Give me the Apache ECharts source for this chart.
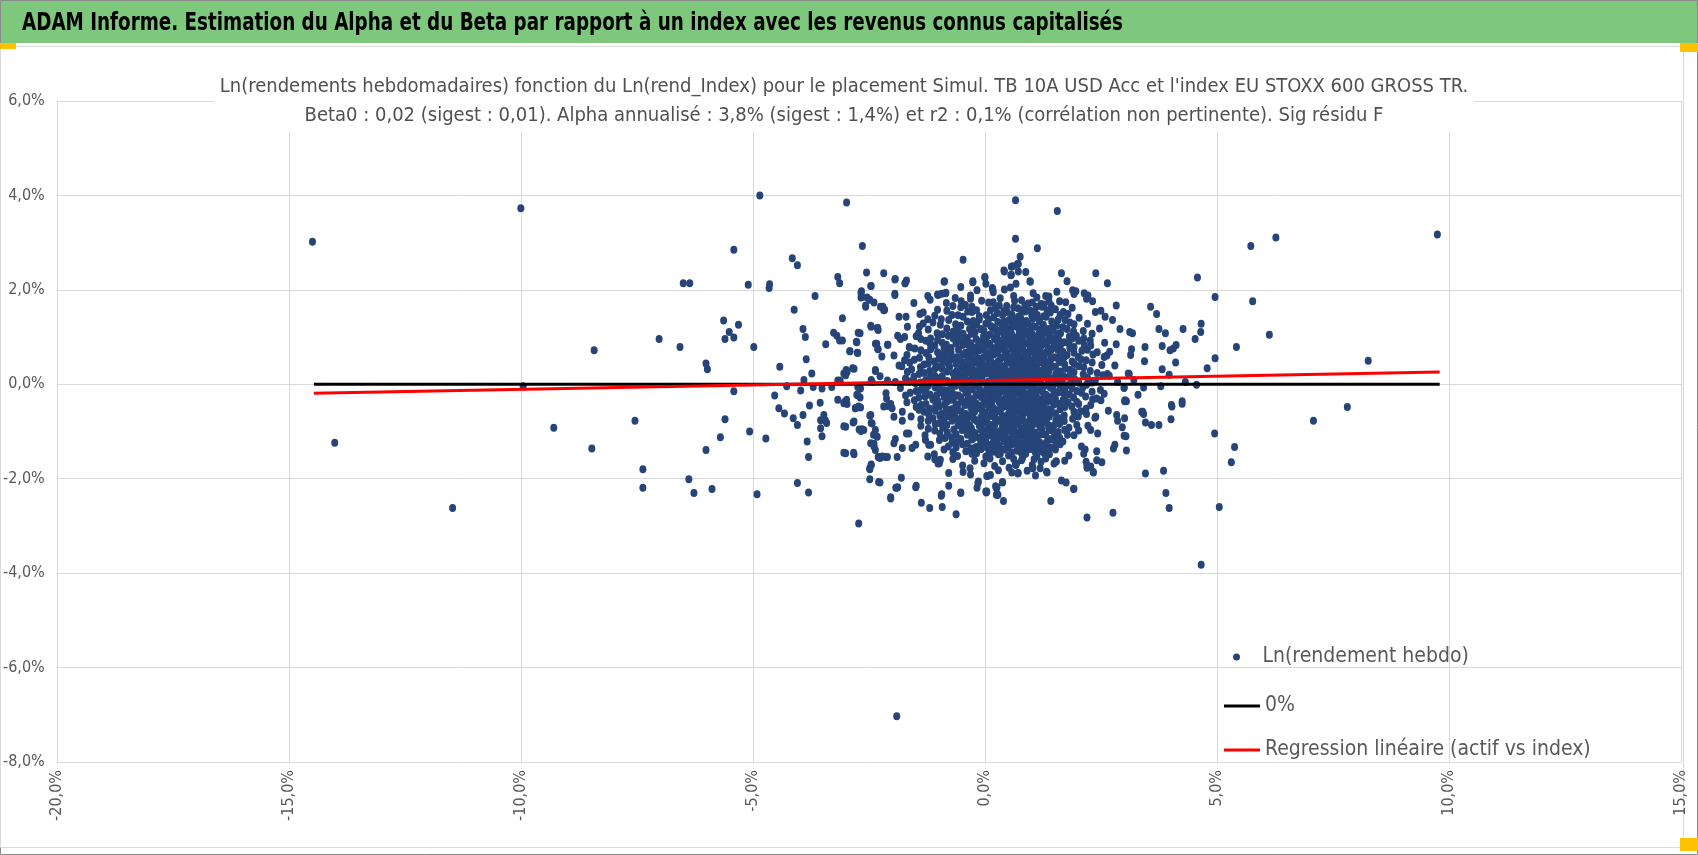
<!DOCTYPE html>
<html>
<head>
<meta charset="utf-8">
<title>ADAM Informe - Alpha et Beta</title>
<script src="https://cdn.jsdelivr.net/npm/echarts@6/dist/echarts.min.js"></script>
<style>
  html, body { margin: 0; padding: 0; background: #fff; }
  #chart { width: 1698px; height: 855px; }
</style>
</head>
<body>
<div id="chart"></div>
<script>
// textes
var mainTitle = 'ADAM Informe. Estimation du Alpha et du Beta par rapport à un index avec les revenus connus capitalisés';
var subTitle = "Ln(rendements hebdomadaires) fonction du Ln(rend_Index) pour le placement Simul. TB 10A USD Acc et l'index EU STOXX 600 GROSS TR.\n" +
               'Beta0 : 0,02 (sigest : 0,01). Alpha annualisé : 3,8% (sigest : 1,4%) et r2 : 0,1% (corrélation non pertinente). Sig résidu F';
var seriesNames = ['Ln(rendement hebdo)', '0%', 'Regression linéaire (actif vs index)'];

// axes (en %)
var xTicks = { min: -20, max: 15, step: 5 };
var yTicks = { min: -8, max: 6, step: 2 };

// points éloignés [Ln(rend_Index) %, Ln(rendement hebdo) %]
var outerPoints = [
  [-14.49,3.02],[-10.00,3.73],[-14.01,-1.24],[-11.47,-2.62],[-9.95,-0.04],[-9.29,-0.92],[-8.42,0.72],[-8.47,-1.36],
  [-7.54,-0.77],[-7.37,-1.80],[-7.37,-2.19],[-7.02,0.96],[-6.57,0.79],[-6.50,2.14],[-6.36,2.14],[-6.38,-2.01],
  [-6.27,-2.30],[-5.88,-2.22],[-6.01,0.44],[-5.98,0.32],[-6.01,-1.39],[-5.70,-1.12],[-5.60,-0.74],[-5.63,1.35],
  [-5.51,1.11],[-5.60,0.96],[-5.41,0.99],[-5.31,1.26],[-5.41,2.85],[-5.41,-0.15],[-5.10,2.11],[-5.07,-1.00],
  [-4.91,-2.33],[-4.85,4.00],[-4.98,0.79],[-4.72,-1.15],[-4.65,2.04],[-4.64,2.12],[-4.53,-0.24],[-4.42,0.37],
  [-4.44,-0.51],[-4.32,-0.62],[-4.27,-0.04],[-4.15,2.67],[-4.04,2.52],[-4.11,1.58],[-4.13,-0.72],[-4.04,-0.86],
  [-4.04,-2.09],[-3.97,-0.13],[-3.92,1.17],[-3.87,1.00],[-3.85,0.53],[-3.90,0.09],[-3.92,-0.65],[-3.83,-1.21],
  [-3.80,-1.54],[-3.80,-2.29],[-3.73,0.23],[-3.78,-0.45],[-3.66,1.87],[-3.70,-0.06],[-3.55,-0.39],[-3.51,-0.09],
  [-3.47,-0.65],[-3.44,-0.76],[-3.54,-0.76],[-3.54,-0.93],[-3.51,-1.10],[-3.41,-0.82],[-3.43,0.85],[-3.30,-0.06],
  [-3.26,1.09],[-3.19,1.03],[-3.17,2.27],[-3.13,2.14],[-3.17,0.08],[-3.12,0.08],[-3.17,-0.33],[-3.13,0.93],
  [-3.07,0.93],[-3.07,1.40],[-3.04,-0.40],[-3.04,-0.89],[-3.04,-1.45],[-3.04,0.23],[-2.99,0.30],[-2.85,0.34],
  [-2.98,3.85],[-2.91,0.70],[-2.98,-0.33],[-2.83,-1.45],[-2.84,-0.81],[-2.79,-0.51],[-2.77,0.90],[-2.75,0.67],
  [-2.72,-2.95],[-2.64,2.93],[-2.66,1.97],[-2.65,1.85],[-2.57,1.67],[-2.76,-0.22],[-2.74,-0.06],[-2.73,1.09],
  [-2.72,-0.47],[-2.71,-0.96],[-2.65,-0.95],[-2.55,2.37],[-2.46,2.08],[-2.46,1.24],[-2.45,0.09],[-2.48,-0.66],
  [-2.45,-0.82],[-2.48,-1.80],[-2.45,-1.70],[-2.48,-2.01],[-2.40,-1.07],[-2.39,-1.26],[-2.36,0.30],[-2.33,0.86],
  [-2.31,1.19],[-2.30,0.74],[-2.20,1.64],[-2.16,1.58],[-2.30,-1.54],[-2.24,-1.54],[-2.14,-1.54],[-2.29,-2.07],
  [-2.18,2.35],[-2.13,-0.19],[-2.18,-0.47],[-2.09,-0.46],[-2.10,0.84],[-2.03,-2.42],[-1.93,2.23],[-1.94,1.92],
  [-1.92,-2.19],[-1.90,-2.19],[-1.80,-1.98],[-1.72,2.14],[-1.69,2.20],[-1.48,-2.15],[-1.37,-2.51],[-1.19,-2.62],
  [-0.93,-2.33],[-0.92,-2.60],[-0.78,-2.15],[-0.62,-2.75],[-0.52,-2.29],[-0.47,2.64],[-1.23,1.87],[-1.02,1.90],
  [-0.85,1.93],[-0.87,2.18],[-0.52,2.06],[-0.26,2.18],[-0.17,1.99],[0.00,2.27],[0.02,2.13],[0.16,2.04],
  [-0.47,-1.86],[-0.31,-1.91],[-0.17,-2.19],[-0.14,-2.06],[0.02,-2.27],[0.04,-1.94],[0.25,-2.20],[0.25,-2.34],
  [-1.90,-7.03],
  [-1.94,2.22],[-1.72,2.14],[-2.45,2.08],[-0.88,2.17],[-0.26,2.16],[0.00,2.26],[0.17,2.01],[-2.67,1.94],
  [-2.67,1.84],[-2.54,1.84],[-2.48,1.79],[-2.39,1.73],[-2.57,1.64],[-2.25,1.64],[-2.18,1.57],[-1.94,1.89],
  [-1.53,1.72],[-1.01,1.89],[-0.84,1.94],[-0.31,1.81],[-1.85,1.43],[-1.70,1.43],[-2.45,1.22],[-2.32,1.19],
  [-2.30,1.15],[-1.67,1.22],[-1.88,1.03],[-1.82,0.96],[-1.73,1.00],[-2.69,1.08],[-2.76,0.89],[-2.91,0.70],
  [-2.74,0.66],[-2.36,0.86],[-2.31,0.75],[-2.22,0.59],[-2.09,0.84],[-1.63,0.79],[-1.43,1.08],[-1.40,1.49],
  [-1.33,1.29],[-1.23,1.38],[-1.08,1.45],[-1.96,0.61],[-1.85,0.40],[-1.73,0.51],[-2.82,0.33],[-2.97,0.26],
  [-3.00,0.19],[-2.36,0.28],[-2.26,0.17],[-2.10,0.08],[-1.93,0.05],[-2.43,0.05],[-2.68,-0.09],[-2.74,-0.23],
  [-2.69,-0.28],[-3.02,-0.37],[-2.97,-0.42],[-2.79,-0.51],[-2.68,-0.49],[-2.46,-0.65],[-2.43,-0.83],[-2.36,-0.97],
  [-2.32,-1.11],[-2.82,-0.79],[-3.00,-0.90],[-2.61,-0.97],[-2.67,-0.99],[-2.12,-0.30],[-2.03,-0.42],[-2.00,-0.51],
  [-1.96,-0.69],[-1.78,-0.58],[-1.78,-0.77],[-1.69,-1.04],[-1.64,-1.04],[-2.46,-1.25],[-2.39,-1.32],[-2.36,-1.39],
  [-2.21,-1.53],[-2.26,-1.56],[-2.10,-1.54],[-1.93,-1.16],[-1.96,-1.25],[-3.00,-1.46],[-2.82,-1.48],[-2.45,-1.71],
  [-2.48,-1.78],[-1.78,-1.35],[-1.57,-1.35],[-1.49,-1.28],[-1.89,-1.54],[-2.26,-2.08],[-1.88,-2.18],[-2.03,-2.39],
  [-1.49,-2.18],[-1.23,-1.53],[-1.28,-1.18],[-1.17,-1.28],[-0.96,-1.60],[-0.98,-1.67],[-1.08,-1.59],[-0.94,-2.36],
  [-0.52,-2.30],[-0.15,-2.09],[0.03,-2.29],[0.23,-2.16],[0.28,-2.34],
  [0.66,3.90],[1.56,3.67],[0.66,3.08],[1.13,2.88],[0.76,2.70],[0.41,2.41],[0.57,2.49],[0.72,2.55],
  [0.88,2.38],[0.72,2.39],[0.57,2.32],[0.97,2.18],[1.65,2.35],[1.77,2.18],[2.39,2.35],[2.64,2.14],
  [1.89,1.99],[1.96,1.97],[2.14,1.93],[2.22,1.88],[2.32,1.76],[2.83,1.67],[3.57,1.64],[3.70,1.49],
  [4.58,2.26],[4.96,1.85],[5.73,2.93],[6.27,3.11],[5.77,1.76],[6.13,1.05],[5.42,0.79],[4.96,0.55],
  [4.79,0.34],[4.66,1.28],[4.65,1.11],[4.53,0.96],[4.27,1.17],[3.89,1.08],[3.75,1.17],[4.12,0.83],
  [4.06,0.76],[3.99,0.72],[4.11,0.46],[3.82,0.81],[3.82,0.32],[3.45,0.79],[3.44,0.49],[3.18,1.08],
  [3.12,1.11],[3.16,0.74],[3.14,0.62],[2.91,1.17],[2.83,0.85],[2.69,0.69],[3.09,0.23],[3.21,0.09],
  [3.30,-0.22],[3.42,-0.07],[3.79,-0.04],[3.97,0.20],[4.32,0.05],[4.56,-0.01],[4.02,-0.44],[4.03,-0.47],
  [4.25,-0.36],[4.25,-0.41],[4.01,-0.74],[3.75,-0.86],[3.59,-0.86],[3.46,-0.81],[3.38,-0.58],[3.42,-0.63],
  [3.01,-0.36],[3.05,-0.36],[3.00,-0.07],[3.01,-0.72],[2.96,-0.91],[3.00,-1.09],[3.04,-1.10],[3.05,-1.40],
  [2.77,-1.36],[2.80,-1.28],[3.46,-1.89],[3.85,-1.83],[3.90,-2.30],[3.97,-2.62],[4.95,-1.04],[5.38,-1.33],
  [5.31,-1.65],[5.05,-2.60],[4.66,-3.82],[2.76,-2.72],[2.20,-2.82],[2.52,-1.65],[2.33,-1.85],[2.41,-1.42],
  [2.20,-1.72],[2.20,-1.77],[1.92,-2.21],[1.65,-2.04],[1.75,-2.08],[1.42,-2.47],[1.33,-1.85],[1.54,-1.63],
  [1.03,-1.77],[0.71,-1.89],[0.66,-1.70],[0.40,-2.47],[0.38,-2.07],[0.26,-2.18],[0.26,-2.33],[0.04,-2.27],
  [0.06,-1.94],[9.75,3.17],[8.26,0.50],[7.81,-0.48],[7.08,-0.77],
  [2.50,1.56],[2.59,1.43],[2.75,1.36],[2.80,0.40],[2.57,0.58],[2.64,0.22],[2.54,0.19],[3.11,0.22],
  [2.86,0.05],[3.00,-0.08],[3.02,-0.34],[3.40,-0.58],[2.84,-0.65],[2.86,-0.77],[2.66,-0.56],[2.57,-0.20],
  [2.41,-0.30],[2.50,-0.34],[2.39,-0.69],[2.43,-1.04],[2.28,-0.97],[2.16,-1.38],[2.13,-1.47],[2.18,-1.64],
  [2.28,-1.74],[2.34,-1.87],[2.41,-1.61],
  [0.70,2.55],[0.60,2.50],[0.42,2.39],[0.56,2.31],[0.98,2.17],[0.67,2.13],[0.55,2.05],[0.42,2.01],
  [1.55,1.96],[1.21,1.70],[1.31,1.87],
  [0.67,-1.71],[0.72,-1.88],[1.03,-1.78],[1.06,-1.59],[1.21,-1.64],[1.34,-1.87],[1.53,-1.64],[0.85,-1.47],
  [0.81,-1.56],[1.28,-1.46],[0.27,-2.34],[0.38,-2.08],[1.91,-2.22]
];

// noyau dense du nuage
var corePoints = [
  [-0.93,1.92],[-0.31,1.88],[0.18,1.95],[0.62,1.87],[1.04,1.93],[1.38,1.86],[1.92,1.91],
  [-1.18,1.79],[-0.64,1.83],[-0.07,1.77],[0.33,1.82],[0.79,1.78],[1.12,1.84],[1.61,1.76],[2.19,1.81],
  [-0.83,1.72],[-0.42,1.68],[0.08,1.73],[0.47,1.66],[0.93,1.71],[1.27,1.69],[1.74,1.74],
  [-1.02,1.58],[-0.52,1.63],[-0.18,1.57],[0.22,1.62],[0.41,1.55],[0.71,1.61],[0.98,1.56],[1.23,1.64],[1.52,1.59],[1.88,1.62],
  [-1.33,1.52],[-0.71,1.47],[-0.28,1.53],[0.03,1.46],[0.27,1.51],[0.58,1.48],[0.87,1.54],[1.13,1.47],[1.41,1.52],[1.79,1.49],[2.38,1.53],
  [-0.94,1.38],[-0.47,1.43],[-0.12,1.37],[0.19,1.42],[0.52,1.36],[0.77,1.41],[1.03,1.39],[1.32,1.43],[1.58,1.37],[2.03,1.41],
  [-1.12,1.31],[-0.63,1.27],[-0.38,1.33],[0.02,1.28],[0.28,1.32],[0.44,1.26],[0.68,1.31],[0.92,1.28],[1.18,1.33],[1.47,1.27],[1.83,1.31],[2.21,1.28],
  [-1.41,1.22],[-0.82,1.18],[-0.27,1.23],[-0.09,1.17],[0.17,1.21],[0.49,1.16],[0.63,1.23],[0.84,1.19],[1.08,1.22],[1.37,1.17],[1.68,1.21],[2.47,1.18],
  [-1.03,1.08],[-0.68,1.12],[-0.47,1.07],[-0.21,1.11],[0.12,1.06],[0.33,1.13],[0.57,1.08],[0.88,1.12],[1.02,1.06],[1.29,1.11],[1.63,1.08],[1.91,1.12],[2.31,1.07],
  [-1.48,1.02],[-1.17,0.97],[-0.79,1.03],[-0.38,0.98],[-0.03,1.02],[0.21,0.96],[0.42,1.03],[0.67,0.99],[0.81,1.04],[1.07,0.97],[1.23,1.02],[1.49,0.98],[1.82,1.01],[2.13,0.97],
  [-1.27,0.92],[-0.92,0.88],[-0.58,0.93],[-0.31,0.87],[-0.08,0.91],[0.09,0.86],[0.31,0.92],[0.53,0.88],[0.72,0.93],[0.88,0.87],[1.03,0.91],[1.28,0.88],[1.43,0.93],[1.71,0.89],[2.02,0.92],[2.58,0.88],
  [-1.62,0.78],[-1.08,0.82],[-0.73,0.77],[-0.48,0.83],[-0.22,0.78],[0.02,0.81],[0.18,0.76],[0.39,0.82],[0.61,0.78],[0.83,0.83],[1.09,0.77],[1.22,0.82],[1.47,0.78],[1.63,0.83],[1.92,0.79],[2.28,0.82],
  [-1.38,0.72],[-1.02,0.68],[-0.77,0.73],[-0.42,0.67],[-0.13,0.71],[0.11,0.68],[0.29,0.73],[0.48,0.66],[0.69,0.71],[0.91,0.68],[1.04,0.73],[1.31,0.67],[1.42,0.72],[1.68,0.69],[2.09,0.71],[2.42,0.68],
  [-1.68,0.62],[-1.21,0.58],[-0.88,0.63],[-0.61,0.57],[-0.33,0.61],[-0.02,0.58],[0.19,0.63],[0.38,0.57],[0.62,0.62],[0.79,0.56],[0.93,0.61],[1.12,0.58],[1.24,0.63],[1.51,0.57],[1.77,0.62],[2.01,0.58],[2.63,0.61],
  [-1.52,0.52],[-1.09,0.48],[-0.72,0.53],[-0.49,0.47],[-0.23,0.51],[-0.07,0.46],[0.12,0.52],[0.28,0.48],[0.51,0.53],[0.64,0.47],[0.82,0.51],[0.98,0.48],[1.18,0.53],[1.33,0.47],[1.59,0.52],[1.88,0.48],[2.18,0.51],
  [-1.79,0.38],[-1.31,0.42],[-1.02,0.37],[-0.79,0.43],[-0.43,0.38],[-0.27,0.42],[0.01,0.37],[0.22,0.43],[0.41,0.38],[0.58,0.42],[0.73,0.36],[0.89,0.41],[1.11,0.38],[1.28,0.43],[1.49,0.37],[1.72,0.42],[2.03,0.38],[2.52,0.41],
  [-1.58,0.32],[-1.19,0.28],[-0.92,0.33],[-0.62,0.27],[-0.38,0.31],[-0.18,0.28],[0.07,0.33],[0.18,0.26],[0.33,0.31],[0.48,0.28],[0.68,0.33],[0.82,0.27],[1.01,0.31],[1.19,0.28],[1.38,0.32],[1.62,0.27],[1.83,0.31],[2.27,0.28],
  [-1.42,0.22],[-1.08,0.18],[-0.68,0.23],[-0.52,0.17],[-0.29,0.21],[-0.11,0.18],[0.03,0.23],[0.21,0.17],[0.42,0.22],[0.59,0.18],[0.78,0.23],[0.92,0.16],[1.08,0.21],[1.27,0.18],[1.53,0.22],[1.69,0.17],[2.12,0.21],[2.68,0.18],
  [-1.71,0.12],[-1.28,0.08],[-0.98,0.13],[-0.81,0.07],[-0.58,0.11],[-0.32,0.08],[-0.17,0.13],[0.08,0.06],[0.27,0.11],[0.52,0.08],[0.63,0.13],[0.79,0.07],[1.02,0.11],[1.21,0.08],[1.39,0.12],[1.58,0.07],[1.93,0.11],[2.38,0.08],
  [-1.49,0.02],[-1.22,-0.03],[-0.88,0.03],[-0.72,-0.02],[-0.39,0.01],[-0.21,-0.04],[0.02,0.03],[0.19,-0.02],[0.38,0.02],[0.53,-0.03],[0.71,0.02],[0.88,-0.02],[1.12,0.03],[1.29,-0.03],[1.51,0.02],[1.78,-0.02],[2.02,0.03],[2.19,-0.01],
  [-1.82,-0.08],[-1.38,-0.12],[-1.07,-0.07],[-0.82,-0.13],[-0.49,-0.08],[-0.28,-0.11],[-0.12,-0.07],[0.11,-0.12],[0.29,-0.08],[0.42,-0.13],[0.61,-0.07],[0.78,-0.11],[0.98,-0.08],[1.18,-0.12],[1.41,-0.07],[1.72,-0.11],[1.88,-0.08],[2.49,-0.12],
  [-1.61,-0.18],[-1.18,-0.22],[-0.97,-0.17],[-0.63,-0.23],[-0.41,-0.18],[-0.19,-0.21],[0.01,-0.17],[0.17,-0.22],[0.32,-0.18],[0.49,-0.23],[0.72,-0.17],[0.89,-0.21],[1.07,-0.18],[1.32,-0.22],[1.58,-0.17],[1.82,-0.21],[2.08,-0.18],
  [-1.42,-0.28],[-1.12,-0.32],[-0.88,-0.27],[-0.68,-0.33],[-0.52,-0.28],[-0.29,-0.31],[-0.08,-0.27],[0.12,-0.32],[0.23,-0.28],[0.41,-0.33],[0.58,-0.27],[0.81,-0.31],[0.99,-0.28],[1.18,-0.32],[1.37,-0.27],[1.52,-0.31],[1.91,-0.28],[2.32,-0.32],
  [-1.68,-0.38],[-1.27,-0.42],[-0.82,-0.37],[-0.58,-0.43],[-0.37,-0.38],[-0.18,-0.41],[0.02,-0.37],[0.09,-0.43],[0.31,-0.38],[0.52,-0.42],[0.68,-0.37],[0.92,-0.41],[1.03,-0.38],[1.21,-0.43],[1.33,-0.37],[1.61,-0.41],[1.79,-0.38],[2.02,-0.42],
  [-1.48,-0.48],[-1.19,-0.52],[-0.98,-0.47],[-0.72,-0.53],[-0.31,-0.48],[-0.11,-0.51],[0.08,-0.47],[0.21,-0.53],[0.39,-0.48],[0.62,-0.52],[0.79,-0.47],[0.98,-0.51],[1.12,-0.48],[1.38,-0.53],[1.72,-0.48],[2.18,-0.52],
  [-1.31,-0.58],[-0.92,-0.62],[-0.62,-0.57],[-0.41,-0.63],[-0.22,-0.58],[0.01,-0.61],[0.28,-0.57],[0.51,-0.62],[0.68,-0.58],[0.82,-0.63],[0.93,-0.57],[1.09,-0.61],[1.29,-0.58],[1.52,-0.62],[1.92,-0.58],
  [-1.59,-0.68],[-1.12,-0.72],[-0.79,-0.67],[-0.51,-0.73],[-0.32,-0.68],[-0.09,-0.71],[0.11,-0.67],[0.22,-0.73],[0.41,-0.68],[0.58,-0.72],[1.01,-0.67],[1.22,-0.71],[1.39,-0.68],[1.62,-0.72],[2.01,-0.68],[2.37,-0.71],
  [-1.22,-0.78],[-0.98,-0.82],[-0.71,-0.77],[-0.42,-0.83],[-0.18,-0.78],[0.02,-0.81],[0.31,-0.77],[0.48,-0.82],[0.72,-0.78],[0.88,-0.83],[1.12,-0.77],[1.28,-0.81],[1.71,-0.78],
  [-1.38,-0.88],[-0.91,-0.92],[-0.58,-0.87],[-0.29,-0.93],[-0.12,-0.88],[0.09,-0.91],[0.21,-0.87],[0.42,-0.92],[0.61,-0.88],[0.79,-0.93],[1.02,-0.87],[1.19,-0.91],[1.48,-0.88],[1.81,-0.92],[2.22,-0.88],
  [-1.08,-0.98],[-0.81,-1.02],[-0.49,-0.97],[-0.21,-1.03],[0.03,-0.98],[0.28,-1.01],[0.52,-0.97],[0.71,-1.03],[0.89,-0.98],[1.08,-1.02],[1.42,-0.97],[1.58,-1.01],[2.02,-0.98],
  [-1.29,-1.08],[-0.72,-1.12],[-0.38,-1.07],[-0.11,-1.13],[0.08,-1.08],[0.22,-1.11],[0.39,-1.07],[0.62,-1.12],[0.78,-1.08],[1.02,-1.13],[1.31,-1.07],[1.49,-1.11],[1.92,-1.08],
  [-0.98,-1.18],[-0.61,-1.22],[-0.28,-1.17],[-0.02,-1.23],[0.19,-1.18],[0.41,-1.21],[0.52,-1.17],[0.72,-1.22],[0.91,-1.18],[1.18,-1.23],[1.42,-1.17],[1.68,-1.21],
  [-1.21,-1.28],[-0.79,-1.32],[-0.48,-1.27],[-0.19,-1.33],[0.12,-1.28],[0.31,-1.31],[0.58,-1.27],[0.81,-1.33],[1.09,-1.28],[1.29,-1.31],[1.62,-1.27],[2.08,-1.32],
  [-0.88,-1.38],[-0.41,-1.42],[-0.08,-1.37],[0.18,-1.43],[0.42,-1.38],[0.69,-1.41],[0.98,-1.37],[1.21,-1.42],[1.52,-1.38],
  [-1.09,-1.48],[-0.59,-1.52],[-0.28,-1.47],[0.02,-1.53],[0.29,-1.48],[0.51,-1.51],[0.88,-1.47],[1.12,-1.52],[1.39,-1.48],[1.81,-1.51],
  [-0.69,-1.58],[-0.22,-1.62],[0.11,-1.57],[0.38,-1.63],[0.62,-1.58],[0.79,-1.61],[1.31,-1.57],[1.72,-1.62],
  [-1.01,-1.68],[-0.48,-1.72],[-0.02,-1.67],[0.21,-1.73],[0.68,-1.68],[1.02,-1.71],[1.49,-1.68],
  [-0.32,-1.78],[0.29,-1.82],[0.52,-1.77],[0.91,-1.83],[1.19,-1.78],
  [-0.78,-1.88],[0.12,-1.92],[0.58,-1.87],[1.09,-1.93]
];

// points intercalés au coeur du nuage
var coreFillPoints = [
  [-0.51,1.76],[0.18,1.74],[0.64,1.77],[1.02,1.73],[1.38,1.76],
  [-0.69,1.66],[-0.28,1.64],[0.31,1.67],[0.62,1.63],[0.86,1.66],[1.11,1.64],[1.43,1.67],
  [-0.82,1.56],[-0.37,1.54],[0.12,1.57],[0.48,1.53],[0.79,1.56],[1.07,1.54],[1.34,1.57],[1.69,1.53],
  [-0.58,1.46],[-0.12,1.44],[0.38,1.47],[0.72,1.43],[1.01,1.46],[1.27,1.44],[1.62,1.47],
  [-0.78,1.36],[-0.25,1.34],[0.08,1.37],[0.41,1.33],[0.63,1.36],[0.89,1.34],[1.17,1.37],[1.44,1.33],[1.73,1.36],
  [-0.96,1.26],[-0.52,1.24],[-0.18,1.27],[0.13,1.23],[0.37,1.26],[0.58,1.24],[0.79,1.27],[1.03,1.23],[1.26,1.26],[1.55,1.24],[1.92,1.27],
  [-1.22,1.16],[-0.58,1.14],[-0.33,1.17],[-0.02,1.13],[0.24,1.16],[0.46,1.14],[0.73,1.17],[0.97,1.13],[1.18,1.16],[1.46,1.14],[1.77,1.17],[2.12,1.13],
  [-0.92,1.06],[-0.57,1.04],[-0.29,1.07],[0.06,1.03],[0.27,1.06],[0.51,1.04],[0.74,1.07],[0.94,1.03],[1.16,1.06],[1.38,1.04],[1.58,1.07],[1.97,1.03],
  [-1.38,0.96],[-1.02,0.94],[-0.68,0.97],[-0.45,0.93],[-0.19,0.96],[0.02,0.94],[0.22,0.97],[0.43,0.93],[0.62,0.96],[0.81,0.94],[0.97,0.97],[1.17,0.93],[1.37,0.96],[1.59,0.94],[1.88,0.97],[2.27,0.93],
  [-1.18,0.86],[-0.83,0.84],[-0.62,0.87],[-0.36,0.83],[-0.13,0.86],[0.11,0.84],[0.28,0.87],[0.47,0.83],[0.67,0.86],[0.78,0.84],[0.96,0.87],[1.14,0.83],[1.33,0.86],[1.55,0.84],[1.81,0.87],[2.14,0.83],
  [-1.51,0.76],[-1.17,0.74],[-0.88,0.77],[-0.57,0.73],[-0.31,0.76],[-0.04,0.74],[0.23,0.77],[0.41,0.73],[0.58,0.76],[0.81,0.74],[0.98,0.77],[1.18,0.73],[1.36,0.76],[1.56,0.74],[1.83,0.77],[2.21,0.73],
  [-1.27,0.66],[-0.97,0.64],[-0.73,0.67],[-0.48,0.63],[-0.22,0.66],[0.05,0.64],[0.27,0.67],[0.46,0.63],[0.72,0.66],[0.87,0.64],[1.06,0.67],[1.19,0.63],[1.38,0.66],[1.62,0.64],[1.92,0.67],[2.33,0.63],
  [-1.41,0.56],[-0.99,0.54],[-0.83,0.57],[-0.59,0.53],[-0.37,0.56],[-0.13,0.54],[0.06,0.57],[0.33,0.53],[0.57,0.56],[0.71,0.54],[0.89,0.57],[1.06,0.53],[1.27,0.56],[1.42,0.54],[1.71,0.57],[2.07,0.53],
  [-1.62,0.46],[-1.22,0.44],[-0.91,0.47],[-0.62,0.43],[-0.35,0.46],[-0.14,0.44],[0.08,0.47],[0.29,0.43],[0.48,0.46],[0.67,0.44],[0.81,0.47],[1.02,0.43],[1.19,0.46],[1.41,0.44],[1.63,0.47],[1.93,0.43],[2.31,0.46],
  [-1.39,0.36],[-1.07,0.34],[-0.76,0.37],[-0.51,0.33],[-0.28,0.36],[-0.08,0.34],[0.13,0.37],[0.27,0.33],[0.42,0.36],[0.61,0.34],[0.77,0.37],[0.93,0.33],[1.09,0.36],[1.28,0.34],[1.52,0.37],[1.73,0.33],[2.13,0.36],
  [-1.67,0.26],[-1.31,0.24],[-0.81,0.27],[-0.59,0.23],[-0.42,0.26],[-0.21,0.24],[-0.02,0.27],[0.12,0.23],[0.29,0.26],[0.52,0.24],[0.69,0.27],[0.86,0.23],[1.01,0.26],[1.17,0.24],[1.38,0.27],[1.61,0.23],[1.92,0.26],[2.42,0.24],
  [-1.53,0.16],[-1.19,0.14],[-0.92,0.17],[-0.66,0.13],[-0.43,0.16],[-0.24,0.14],[-0.06,0.17],[0.16,0.13],[0.36,0.16],[0.46,0.14],[0.71,0.17],[0.86,0.13],[0.99,0.16],[1.14,0.14],[1.33,0.17],[1.47,0.13],[1.81,0.16],[2.21,0.14],
  [-1.63,0.06],[-1.39,0.04],[-1.06,0.07],[-0.78,0.03],[-0.51,0.06],[-0.28,0.04],[-0.09,0.07],[0.13,0.03],[0.32,0.06],[0.46,0.04],[0.62,0.07],[0.81,0.03],[0.96,0.06],[1.19,0.04],[1.37,0.07],[1.67,0.03],[1.87,0.06],[2.31,0.04],
  [-1.33,-0.04],[-0.99,-0.06],[-0.63,-0.03],[-0.41,-0.07],[-0.19,-0.04],[0.04,-0.06],[0.23,-0.03],[0.47,-0.07],[0.58,-0.04],[0.79,-0.06],[0.93,-0.03],[1.06,-0.07],[1.23,-0.04],[1.46,-0.06],[1.62,-0.03],[2.11,-0.07],
  [-1.48,-0.14],[-1.27,-0.16],[-0.89,-0.13],[-0.71,-0.17],[-0.36,-0.14],[-0.07,-0.16],[0.08,-0.13],[0.24,-0.17],[0.37,-0.14],[0.56,-0.16],[0.69,-0.13],[0.83,-0.17],[1.01,-0.14],[1.24,-0.16],[1.48,-0.13],[1.67,-0.17],[1.98,-0.14],[2.31,-0.16],
  [-1.71,-0.24],[-1.29,-0.26],[-1.04,-0.23],[-0.78,-0.27],[-0.57,-0.24],[-0.36,-0.26],[-0.15,-0.23],[0.06,-0.27],[0.29,-0.24],[0.46,-0.26],[0.63,-0.23],[0.77,-0.27],[0.94,-0.24],[1.11,-0.26],[1.28,-0.23],[1.46,-0.27],[1.73,-0.24],[2.17,-0.26],
  [-1.52,-0.34],[-1.01,-0.36],[-0.74,-0.33],[-0.46,-0.37],[-0.24,-0.34],[-0.01,-0.36],[0.17,-0.33],[0.37,-0.37],[0.48,-0.34],[0.62,-0.36],[0.86,-0.33],[1.08,-0.37],[1.27,-0.34],[1.44,-0.36],[1.69,-0.33],[1.98,-0.37],
  [-1.37,-0.44],[-1.06,-0.46],[-0.87,-0.43],[-0.63,-0.47],[-0.43,-0.44],[-0.23,-0.46],[-0.04,-0.43],[0.16,-0.47],[0.34,-0.44],[0.47,-0.46],[0.73,-0.43],[0.86,-0.47],[1.06,-0.44],[1.27,-0.46],[1.49,-0.43],[1.87,-0.47],[2.28,-0.44],
  [-1.42,-0.54],[-1.07,-0.56],[-0.83,-0.53],[-0.51,-0.57],[-0.28,-0.54],[-0.06,-0.56],[0.14,-0.53],[0.33,-0.57],[0.57,-0.54],[0.73,-0.56],[0.88,-0.53],[1.02,-0.57],[1.19,-0.54],[1.43,-0.56],[1.62,-0.53],[2.06,-0.57],
  [-1.21,-0.64],[-0.97,-0.66],[-0.71,-0.63],[-0.48,-0.67],[-0.27,-0.64],[-0.06,-0.66],[0.16,-0.63],[0.38,-0.67],[0.61,-0.64],[0.77,-0.66],[0.96,-0.63],[1.17,-0.67],[1.36,-0.64],[1.71,-0.66],[2.19,-0.63],
  [-1.38,-0.74],[-0.88,-0.76],[-0.61,-0.73],[-0.39,-0.77],[-0.23,-0.74],[0.04,-0.76],[0.24,-0.73],[0.47,-0.77],[0.66,-0.74],[0.83,-0.76],[0.98,-0.73],[1.16,-0.77],[1.33,-0.74],[1.53,-0.76],[1.89,-0.73],
  [-1.07,-0.84],[-0.82,-0.86],[-0.51,-0.83],[-0.33,-0.87],[-0.06,-0.84],[0.13,-0.86],[0.37,-0.83],[0.56,-0.87],[0.72,-0.84],[0.96,-0.86],[1.09,-0.83],[1.37,-0.87],[1.61,-0.84],[1.98,-0.86],
  [-1.22,-0.94],[-0.67,-0.96],[-0.38,-0.93],[-0.08,-0.97],[0.16,-0.94],[0.36,-0.96],[0.63,-0.93],[0.82,-0.97],[0.97,-0.94],[1.23,-0.96],[1.38,-0.93],[1.72,-0.97],
  [-0.97,-1.04],[-0.62,-1.06],[-0.31,-1.03],[-0.03,-1.07],[0.18,-1.04],[0.44,-1.06],[0.59,-1.03],[0.83,-1.07],[0.96,-1.04],[1.21,-1.06],[1.52,-1.03],[1.78,-1.07],
  [-0.86,-1.14],[-0.52,-1.16],[-0.23,-1.13],[0.02,-1.17],[0.29,-1.14],[0.48,-1.16],[0.67,-1.13],[0.88,-1.17],[1.12,-1.14],[1.36,-1.16],[1.61,-1.13],
  [-0.71,-1.24],[-0.38,-1.26],[-0.09,-1.23],[0.27,-1.27],[0.47,-1.24],[0.64,-1.26],[0.84,-1.23],[1.02,-1.27],[1.32,-1.24],[1.53,-1.26],
  [-0.62,-1.34],[-0.29,-1.36],[0.03,-1.33],[0.22,-1.37],[0.49,-1.34],[0.74,-1.36],[0.91,-1.33],[1.17,-1.37],[1.41,-1.34],
  [-0.69,-1.44],[-0.18,-1.46],[0.09,-1.43],[0.33,-1.47],[0.58,-1.44],[0.79,-1.46],[1.08,-1.43],[1.33,-1.46]
];

// droites : 0% et régression (Beta0 = 0,02)
var zeroLine = [[-14.46, 0], [9.80, 0]];
var regressionLine = [[-14.46, -0.19], [9.80, 0.26]];

var FONT = "'Liberation Sans Narrow', 'DejaVu Sans Condensed', 'Noto Sans', sans-serif";
var GREY = '#595959';

function pct(v) {
  return v.toFixed(1).replace('.', ',') + '%';
}

var chart = echarts.init(document.getElementById('chart'));

chart.setOption({
  backgroundColor: '#fff',
  animation: false,
  textStyle: { fontFamily: FONT },
  graphic: [
    { type: 'rect', z: 0, shape: { x: 0, y: 0, width: 1698, height: 43 }, style: { fill: '#7dc87c' } },
    { type: 'rect', z: 0, shape: { x: 0.5, y: 0.5, width: 1697, height: 854 }, style: { fill: null, stroke: '#8a8a8a', lineWidth: 1 } },
    { type: 'rect', z: 0, shape: { x: 0.5, y: 46.5, width: 1683, height: 801 }, style: { fill: null, stroke: '#d9d9d9', lineWidth: 1 } },
    { type: 'rect', z: 0, shape: { x: 0, y: 43, width: 16, height: 6 }, style: { fill: '#ffc000' } },
    { type: 'rect', z: 0, shape: { x: 1680, y: 43, width: 18, height: 9 }, style: { fill: '#ffc000' } },
    { type: 'rect', z: 0, shape: { x: 1680, y: 838, width: 18, height: 13 }, style: { fill: '#ffc000' } },
    {
      // titre de la bande verte, resserré comme une police étroite
      type: 'text',
      z: 10,
      x: 22,
      y: 23,
      scaleX: 0.815,
      style: {
        text: mainTitle,
        font: "bold 25px 'Liberation Sans Narrow', 'DejaVu Sans Condensed', sans-serif",
        fill: '#000',
        verticalAlign: 'middle',
        align: 'left'
      }
    }
  ],
  title: [
    {
      text: subTitle,
      left: 838,
      textAlign: 'center',
      top: 70,
      padding: [2, 6],
      backgroundColor: '#fff',
      textStyle: { fontFamily: FONT, fontSize: 20, fontWeight: 'normal', color: '#505050', lineHeight: 29 }
    }
  ],
  legend: [
    {
      data: [seriesNames[0]],
      orient: 'vertical',
      left: 1228,
      top: 640,
      icon: 'circle',
      itemWidth: 32,
      itemHeight: 7,
      textStyle: { fontFamily: FONT, fontSize: 21, color: GREY, lineHeight: 24, padding: [0, 0, 0, 5] }
    },
    {
      data: [seriesNames[1], seriesNames[2]],
      orient: 'vertical',
      left: 1219,
      top: 689,
      icon: 'rect',
      itemWidth: 36,
      itemHeight: 3,
      itemGap: 20,
      textStyle: { fontFamily: FONT, fontSize: 21, color: GREY, lineHeight: 24 }
    }
  ],
  grid: { left: 56, right: 17, top: 101, bottom: 93 },
  xAxis: {
    type: 'value',
    min: xTicks.min,
    max: xTicks.max,
    interval: xTicks.step,
    axisLine: { show: false },
    axisTick: { show: false },
    splitLine: { show: true, lineStyle: { color: '#d9d9d9', width: 1 } },
    axisLabel: {
      rotate: 90,
      margin: 8,
      fontFamily: FONT,
      fontSize: 16,
      color: GREY,
      formatter: pct
    }
  },
  yAxis: {
    type: 'value',
    min: yTicks.min,
    max: yTicks.max,
    interval: yTicks.step,
    axisLine: { show: false },
    axisTick: { show: false },
    splitLine: { show: true, lineStyle: { color: '#d9d9d9', width: 1 } },
    axisLabel: {
      margin: 12,
      fontFamily: FONT,
      fontSize: 16,
      color: GREY,
      formatter: pct
    }
  },
  series: [
    {
      name: seriesNames[1],
      type: 'line',
      data: zeroLine,
      showSymbol: false,
      color: '#000',
      lineStyle: { color: '#000', width: 3 }
    },
    {
      name: seriesNames[2],
      type: 'line',
      data: regressionLine,
      showSymbol: false,
      color: '#ff0000',
      lineStyle: { color: '#ff0000', width: 3 }
    },
    {
      name: seriesNames[0],
      type: 'scatter',
      data: outerPoints.concat(corePoints, coreFillPoints),
      symbol: 'circle',
      symbolSize: [7, 8],
      itemStyle: { color: '#264478', opacity: 1 }
    }
  ]
});
</script>
</body>
</html>
